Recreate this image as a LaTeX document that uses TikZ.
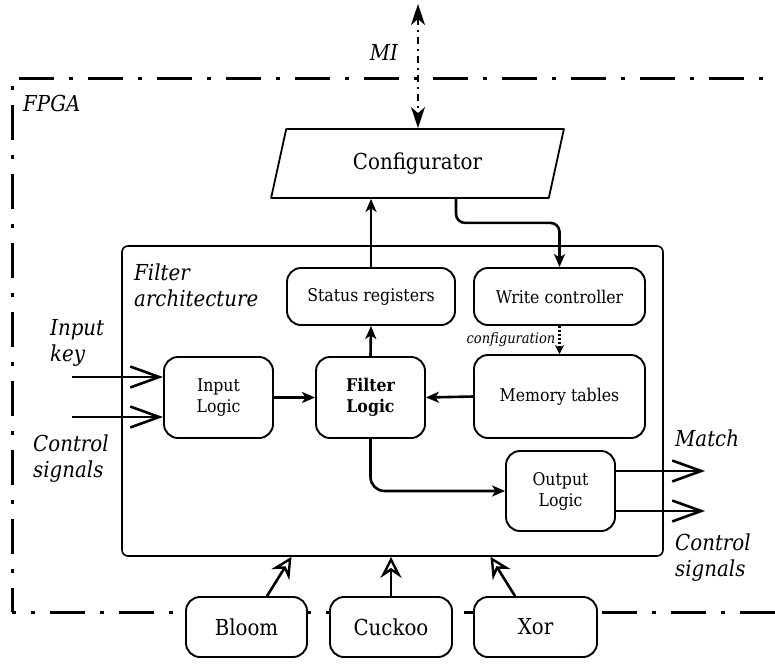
\documentclass[tikz,border=0pt]{standalone}
\usepackage{fontspec}
\setmainfont{DejaVu Serif}[FakeStretch=0.9]
\usetikzlibrary{arrows.meta,shapes.geometric,calc}

\newcommand\dgBox{\fontsize{17.5}{21}\selectfont}
\newcommand\dgBig{\fontsize{22}{26}\selectfont}
\newcommand\dgLab{\fontsize{22}{26}\selectfont\itshape}
\newcommand\dgSmall{\fontsize{14.5}{17}\selectfont\itshape}

\tikzset{
  blk/.style={draw, line width=1.9pt, rounded corners=14pt, align=center,
    font=\dgBox, inner sep=0pt},
  conn/.style={line width=2.6pt, -{Stealth[length=13pt,width=11pt,inset=3.5pt]}},
  barb/.style={line width=2.6pt, -{Straight Barb[length=29pt,width=21pt,line width=2.6pt]}},
  opentri/.style={line width=2.6pt, -{Stealth[open,length=21pt,width=21pt,inset=7pt,line width=2.4pt]}},
  cfgline/.style={line width=2.2pt, dash pattern=on 2pt off 2pt,
    -{Stealth[length=9pt,width=9pt,inset=2.5pt]}},
  miline/.style={line width=1.6pt, dash pattern=on 7pt off 5pt on 2pt off 5pt,
    {Stealth[length=21pt,width=14pt,inset=6pt]}-{Stealth[length=21pt,width=14pt,inset=6pt]}},
  fpga/.style={line width=3pt, dash pattern=on 35pt off 15pt on 4pt off 15pt, dash phase=11pt},
  lab/.style={font=\dgLab, align=left, inner sep=0pt},
}

\begin{document}
\begin{tikzpicture}[x=1pt,y=-1pt,line join=round]
\useasboundingbox (0,0) rectangle (775,664);

% FPGA boundary (its right side lies off the page)
\draw[fpga] (12,612) -- (12,78) -- (820,78) -- (820,612) -- cycle;
\node[lab, anchor=west] (fpgalbl) at (23,103) {FPGA};

% filter architecture frame
\node[draw, line width=1.6pt, rounded corners=6pt, minimum width=541pt,
  minimum height=310pt, inner sep=0pt] (arch) at (392.5,401) {};
\node[lab, anchor=west] (archlbl) at (134,285) {Filter\\architecture};

% configurator
\node[draw, trapezium, trapezium left angle=71, trapezium right angle=109,
  trapezium stretches=true, minimum width=293pt, minimum height=69pt,
  inner sep=0pt, line width=1.8pt, font=\dgBig] (conf) at (417.5,163.5) {Configurator};

% blocks
\node[blk, minimum width=168pt, minimum height=57pt] (stat) at (371,296.5) {Status registers};
\node[blk, minimum width=171pt, minimum height=57pt] (wctl) at (559.5,296.5) {Write controller};
\node[blk, minimum width=171pt, minimum height=83pt] (mem) at (559.5,396.5) {Memory tables};
\node[blk, minimum width=109pt, minimum height=81pt] (inl) at (218.5,397.5) {Input\\Logic};
\node[blk, minimum width=109pt, minimum height=81pt, font=\dgBox\bfseries] (fl) at (370.5,397.5) {Filter\\Logic};
\node[blk, minimum width=109pt, minimum height=80pt] (outl) at (560.5,491) {Output\\Logic};

% filter variants
\node[blk, fill=white, font=\dgBig, minimum width=121pt, minimum height=60pt] (bloom) at (246.5,627) {Bloom};
\node[blk, fill=white, font=\dgBig, minimum width=122pt, minimum height=60pt] (cuckoo) at (391,627) {Cuckoo};
\node[blk, fill=white, font=\dgBig, minimum width=123pt, minimum height=60pt] (xor) at (535.5,627) {Xor};

% management interface
\coordinate (mitop) at (418,4);
\draw[miline] (mitop) -- (mitop |- conf.north);
\node[lab] (milbl) at (384,52) {MI};

% internal connectors
\draw[conn] (stat.north) -- (stat.north |- conf.south);
\draw[conn, rounded corners=9pt] ([xshift=38.5pt]conf.south) -- ++(0,24) -| (wctl.north);
\draw[cfgline] (wctl.south) -- node[left, font=\dgSmall, inner sep=3pt] (cfglbl) {configuration} (mem.north);
\draw[conn] (inl.east) -- (fl.west);
\draw[conn] (mem.west) -- (fl.east);
\draw[conn] (fl.north) -- (stat.south);
\draw[conn, rounded corners=14pt] (fl.south) |- (outl.west);

% inputs
\coordinate (k1) at (72,377);
\coordinate (k2) at (72,417);
\draw[barb] (k1) -- (k1 -| inl.west);
\draw[barb] (k2) -- (k2 -| inl.west);
\node[lab, anchor=west] (keylbl) at (50,343) {Input\\key};
\node[lab, anchor=west] (ctlin) at (33,459) {Control\\signals};

% outputs
\coordinate (m1) at (705,471);
\coordinate (m2) at (705,511);
\draw[barb] (outl.east |- m1) -- (m1);
\draw[barb] (outl.east |- m2) -- (m2);
\node[lab, anchor=west] (matchlbl) at (675,438) {Match};
\node[lab, anchor=west] (ctlout) at (675,558) {Control\\signals};

% variant selection arrows
\draw[opentri] ([xshift=20.5pt]bloom.north) -- ([xshift=-101pt]arch.south);
\draw[opentri] (cuckoo.north) -- (cuckoo.north |- arch.south);
\draw[opentri] ([xshift=-20.5pt]xor.north) -- ([xshift=98pt]arch.south);
\end{tikzpicture}
\end{document}
